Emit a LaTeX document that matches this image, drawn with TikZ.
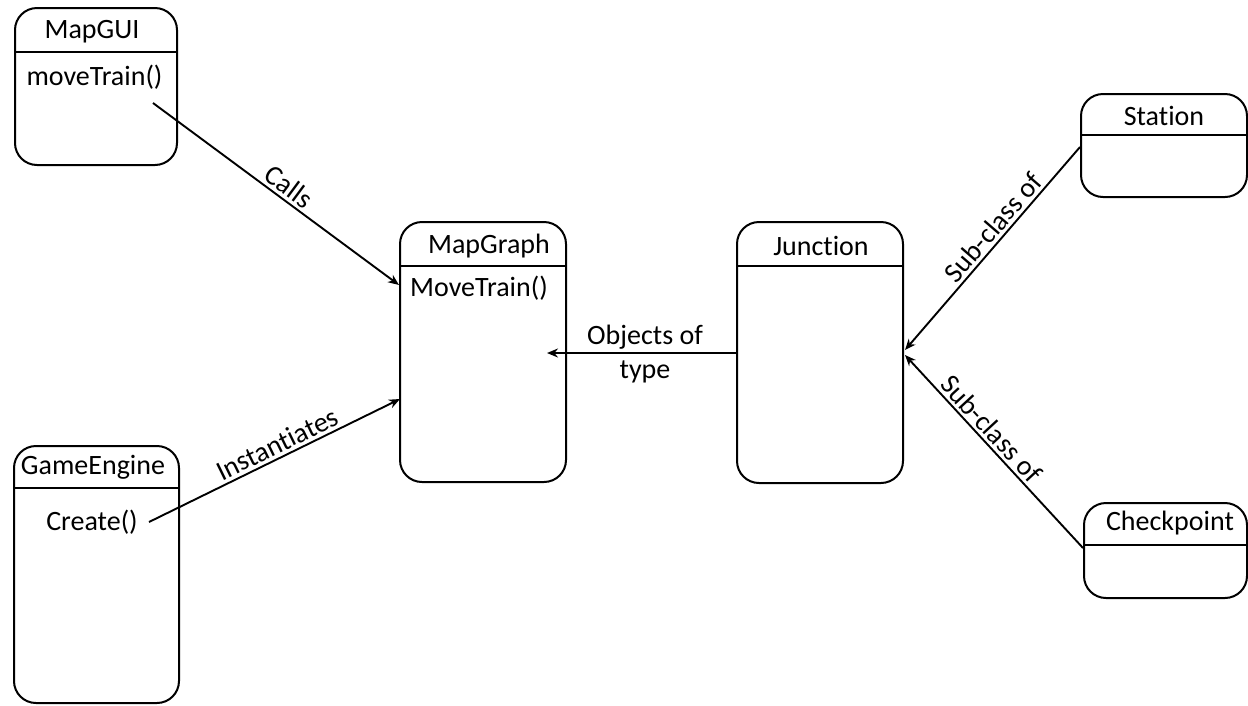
\documentclass[tikz,border=0pt]{standalone}
\usepackage{fontspec}
\setmainfont{Carlito}[Ligatures={NoCommon}]
\usetikzlibrary{arrows.meta}
\begin{document}
\begin{tikzpicture}[x=1pt,y=-1pt,
  box/.style={draw,line width=2pt,rounded corners=22pt,inner sep=0pt},
  hline/.style={line width=2pt},
  txt/.style={inner sep=0pt,font=\fontsize{28}{34}\selectfont},
  lbl/.style={inner sep=3pt,font=\fontsize{28}{34}\selectfont},
  conn/.style={line width=1.9pt,-{Stealth[length=11pt,width=9pt]}}]
\useasboundingbox (0,0) rectangle (1248,705);
% boxes
\node[box,minimum width=162pt,minimum height=157pt] (gui) at (96,86.5) {};
\node[box,minimum width=165pt,minimum height=257pt] (ge) at (96.5,574.5) {};
\node[box,minimum width=166pt,minimum height=260pt] (mg) at (483,352) {};
\node[box,minimum width=166pt,minimum height=261pt] (jn) at (820,352.5) {};
\node[box,minimum width=166pt,minimum height=103pt] (st) at (1164,145.5) {};
\node[box,minimum width=163pt,minimum height=95pt] (cp) at (1165.5,550.5) {};
% header lines
\draw[hline] (gui.west |- 0,52) -- (gui.east |- 0,52);
\draw[hline] (ge.west |- 0,488) -- (ge.east |- 0,488);
\draw[hline] (mg.west |- 0,266) -- (mg.east |- 0,266);
\draw[hline] (jn.west |- 0,266) -- (jn.east |- 0,266);
\draw[hline] (st.west |- 0,135) -- (st.east |- 0,135);
\draw[hline] (cp.west |- 0,545) -- (cp.east |- 0,545);
% texts
\node[txt] (guiT) at (92,32) {MapGUI};
\node[txt] (guiM) at (94.5,77) {moveTrain()};
\node[txt] (geT) at (93,467) {GameEngine};
\node[txt] (geM) at (92,522) {Create()};
\node[txt] (mgT) at (489,246) {MapGraph};
\node[txt] (mgM) at (479,288) {MoveTrain()};
\node[txt] (jnT) at (821,246) {Junction};
\node[txt] (stT) at (1164,116) {Station};
\node[txt] (cpT) at (1170,523) {Checkpoint};
% connector ends
\coordinate (callsS) at (153,103);
\coordinate (callsE) at (399,285);
\coordinate (instS) at (149,522);
\coordinate (instE) at (400,399);
\coordinate (objE) at (547,353);
\coordinate (stE) at (905,350);
\coordinate (cpE) at (905,355);
% connectors
\draw[conn] (callsS) -- node[lbl,sloped,above,pos=0.52] {Calls} (callsE);
\draw[conn] (instS) -- node[lbl,sloped,above,pos=0.535] {Instantiates} (instE);
\draw[conn] (jn.west |- objE) -- (objE);
\node[txt,align=center] (objL) at (645,354) {Objects of\\type};
\draw[conn] (st.west |- 0,147) -- node[lbl,sloped,above,pos=0.44] {Sub-class of} (stE);
\draw[conn] (cp.west |- 0,548) -- node[lbl,sloped,above,pos=0.57] {Sub-class of} (cpE);
\end{tikzpicture}
\end{document}
